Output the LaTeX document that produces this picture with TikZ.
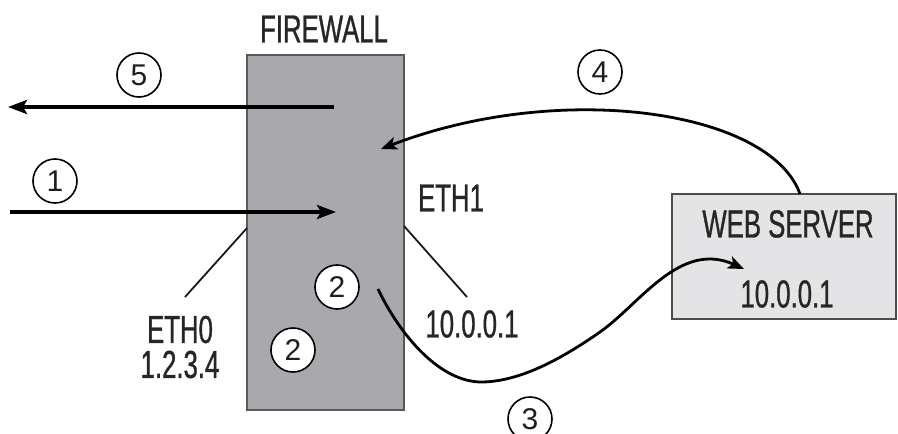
\documentclass[tikz,border=0pt]{standalone}
\usepackage{fontspec}
\setmainfont{Liberation Sans}
\newfontfamily\narrowfont[FakeStretch=0.66,FakeBold=0.8]{Liberation Sans}
\usetikzlibrary{arrows.meta}
\definecolor{fwgray}{RGB}{169,169,173}
\definecolor{srvgray}{RGB}{228,228,230}

\begin{document}
\begin{tikzpicture}[x=1pt,y=-1pt,
  labeltext/.style={font=\narrowfont\fontsize{39}{35}\selectfont, text=black!85, inner sep=0pt},
  stepnum/.style={circle, draw=black, line width=1.6pt, fill=white, minimum size=44pt,
    inner sep=0pt, font=\fontsize{30}{30}\selectfont, text=black!88},
  fwbox/.style={draw=black!65, line width=1.5pt, fill=fwgray, inner sep=0pt},
  srvbox/.style={draw=black!70, line width=1.5pt, fill=srvgray, inner sep=0pt},
  bigarrow/.style={line width=4pt, -{Stealth[length=19pt,width=14pt,inset=4pt]}},
  curvearrow/.style={line width=2.8pt, -{Stealth[length=16pt,width=13pt,inset=4pt]}},
  leader/.style={line width=1.8pt, black!90},
]
\useasboundingbox (0,0) rectangle (898,434);

% firewall and web server boxes
\node[fwbox, minimum width=157pt, minimum height=355pt] (fw) at (325.5,232.5) {};
\node[srvbox, minimum width=224pt, minimum height=125pt] (srv) at (784,256.5) {};

% texts
\node[labeltext] (fwlabel) at (324,29) {FIREWALL};
\node[labeltext] (srvname) at (788,224) {WEB SERVER};
\node[labeltext] (srvip) at (787,294) {10.0.0.1};
\node[labeltext, align=center] (eth0) at (180,347) {ETH0\\1.2.3.4};
\node[labeltext] (eth1) at (451,198) {ETH1};
\node[labeltext] (eth1ip) at (472,324) {10.0.0.1};

% interface leader lines
\coordinate (eth0end) at (185,297);
\coordinate (eth0port) at (247,228);
\coordinate (eth1port) at (404,226);
\coordinate (eth1end) at (467,297);
\draw[leader] (eth0end) -- (eth0port);
\draw[leader] (eth1port) -- (eth1end);

% packet flow arrows
\coordinate (outstart) at (334,107);
\coordinate (outend) at (8,107);
\coordinate (instart) at (10,212);
\coordinate (inend) at (336,212);
\draw[bigarrow] (outstart) -- (outend);
\draw[bigarrow] (instart) -- (inend);

\coordinate (replystart) at (800,194);
\coordinate (replyend) at (381,149);
\draw[curvearrow] (replystart) .. controls (770,110) and (560,80) .. (replyend);

\coordinate (fwdstart) at (378,289);
\coordinate (fwdend) at (744,269);
\draw[curvearrow] (fwdstart) .. controls (400,335) and (440,383) .. (483,382)
  .. controls (520,381) and (560,360) .. (600,332)
  .. controls (640,304) and (680,240) .. (fwdend);

% step numbers
\node[stepnum] (s5) at (139,75) {5};
\node[stepnum] (s1) at (55,181) {1};
\node[stepnum] (s4) at (600,72) {4};
\node[stepnum] (s2a) at (337,287) {2};
\node[stepnum] (s2b) at (293,350) {2};
\node[stepnum] (s3) at (530,419) {3};
\end{tikzpicture}
\end{document}
